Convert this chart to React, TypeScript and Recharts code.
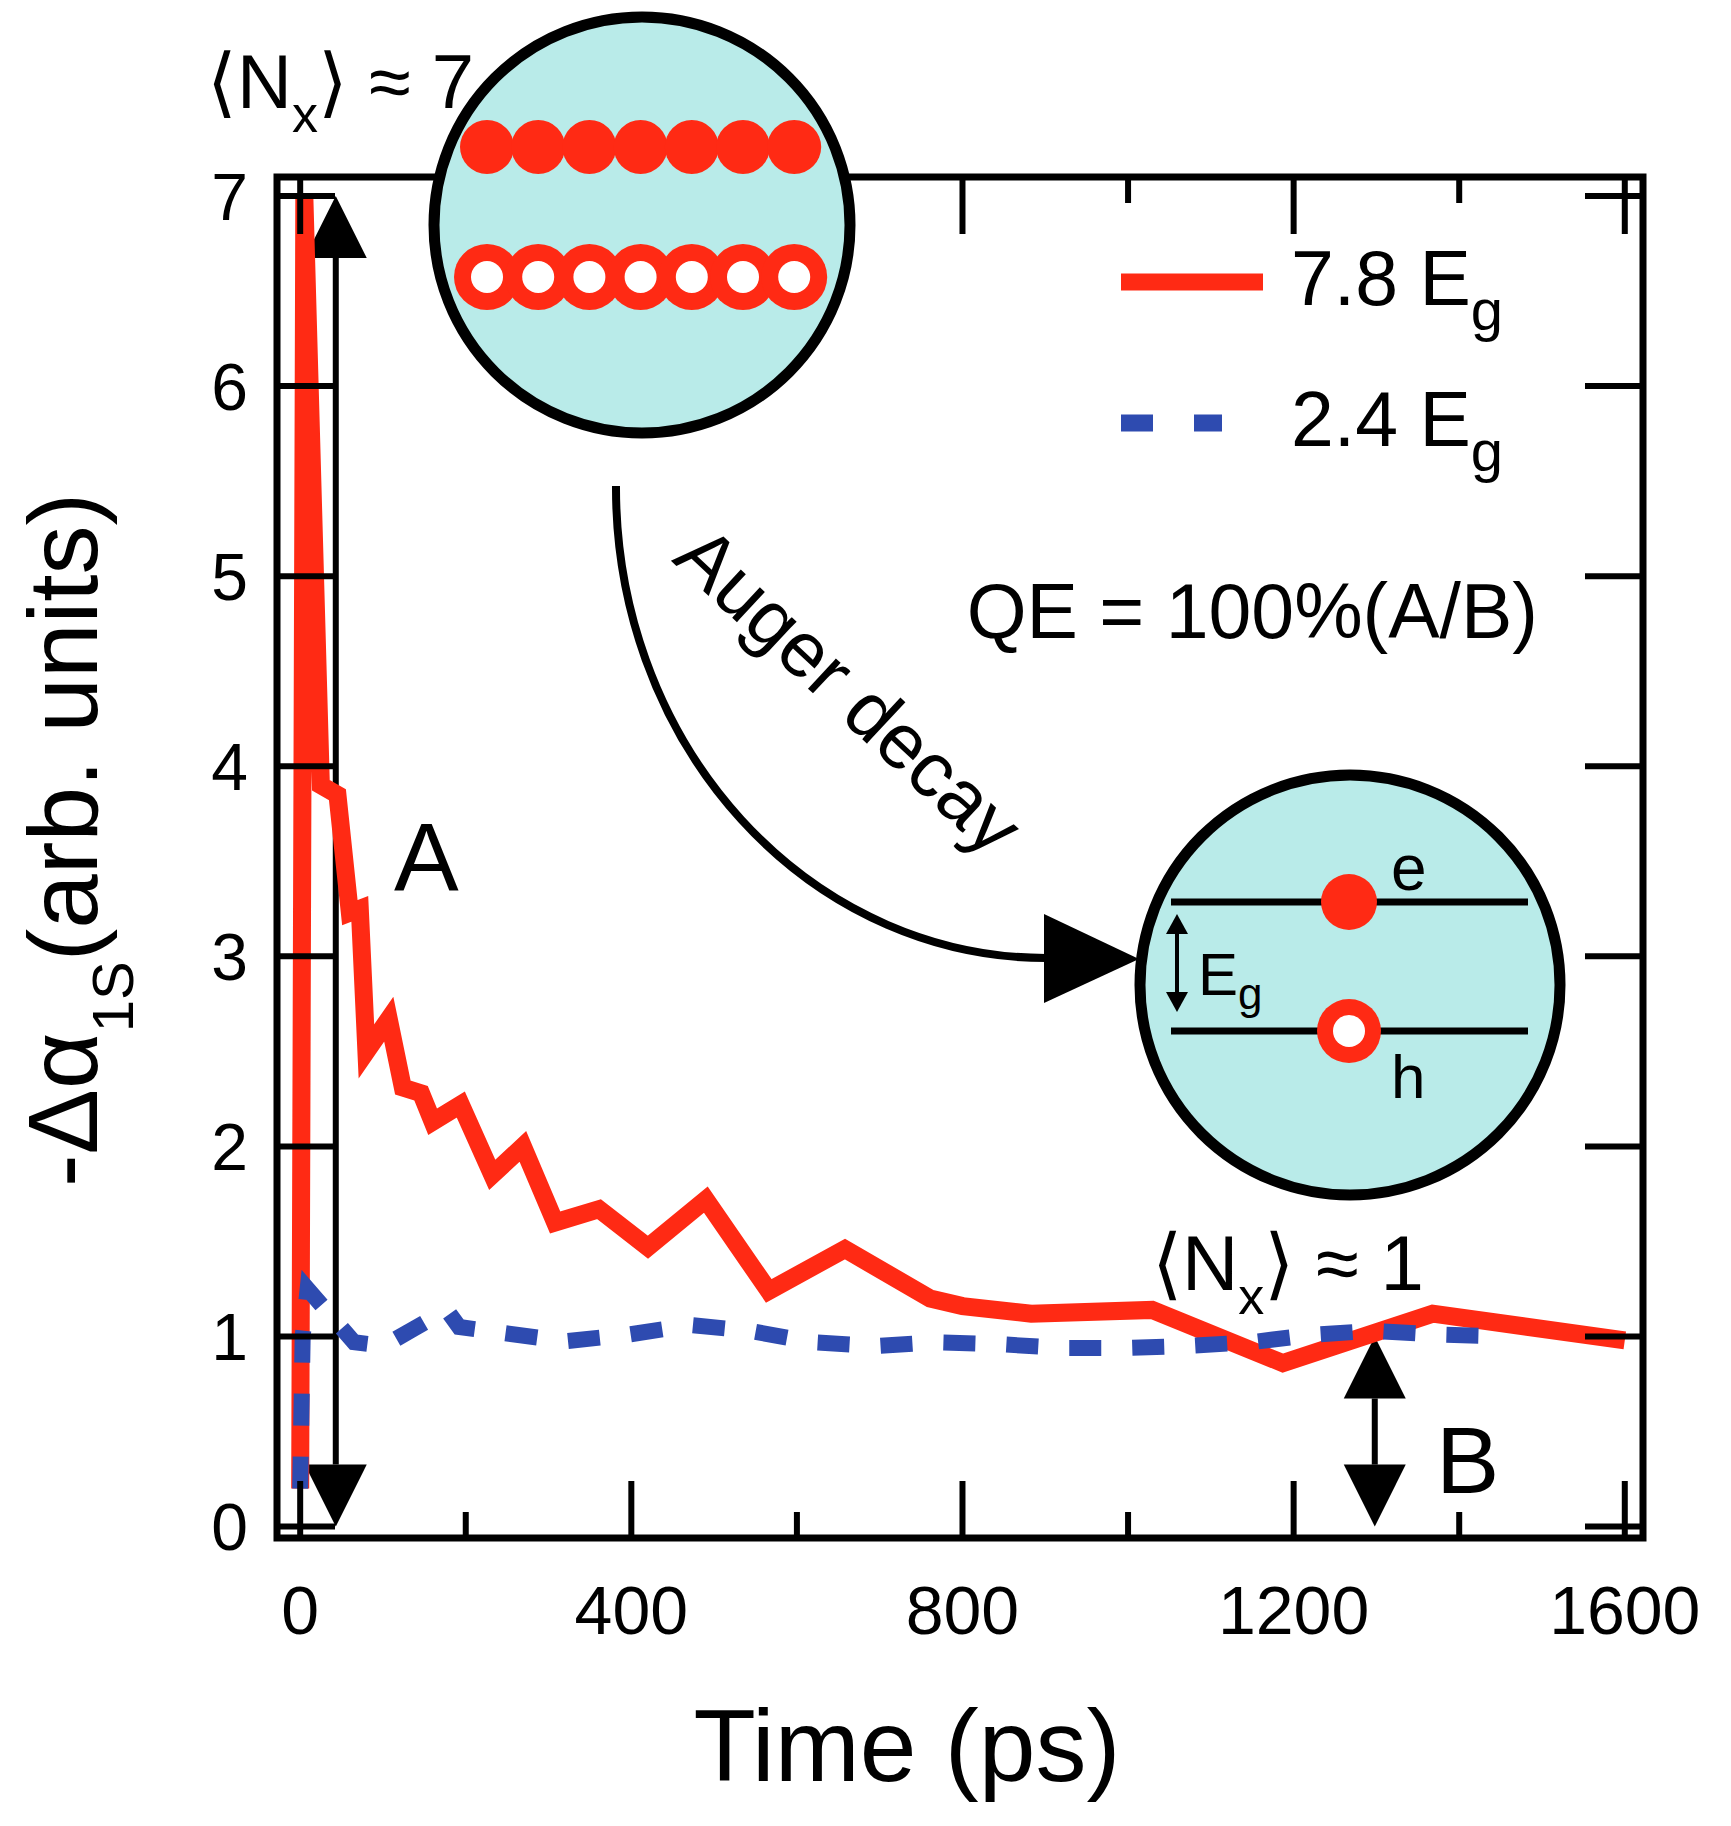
import React from "react";
import {
  LineChart,
  Line,
  XAxis,
  YAxis,
  ReferenceArea,
  ReferenceLine,
  Legend,
} from "recharts";

// 7.8 Eg pump (red, solid)
const TIME_78 = [
  0, 5, 25, 45, 60, 72, 80, 107, 124, 146, 160, 194, 232, 269, 308, 361, 420,
  490, 566, 658, 761, 800, 883, 1029, 1187, 1368, 1600,
];
const SIGNAL_78 = [
  0.2, 7.0, 3.9, 3.85, 3.23, 3.25, 2.5, 2.67, 2.31, 2.28, 2.13, 2.22, 1.85, 2.0,
  1.6, 1.67, 1.47, 1.72, 1.24, 1.46, 1.2, 1.16, 1.12, 1.14, 0.86, 1.12, 0.98,
];

// 2.4 Eg pump (blue, dashed)
const TIME_24 = [
  0, 3, 9, 65, 101, 137, 177, 192, 243, 320, 396, 472, 543, 619, 696, 768, 844,
  920, 996, 1072, 1148, 1225, 1296, 1374, 1460,
];
const SIGNAL_24 = [
  0.2, 1.0, 1.25, 0.97, 0.95, 1.04, 1.14, 1.05, 1.02, 0.975, 1.01, 1.06, 1.03,
  0.97, 0.95, 0.97, 0.96, 0.94, 0.94, 0.95, 0.97, 1.01, 1.03, 1.01, 1.0,
];

const SERIES_NAMES = ["7.8 E_g", "2.4 E_g"];
const X_TICKS = [0, 200, 400, 600, 800, 1000, 1200, 1400, 1600];
const Y_TICKS = [0, 1, 2, 3, 4, 5, 6, 7];
const X_DOMAIN = [-28, 1622];
const Y_DOMAIN = [-0.06, 7.1];

// arrows "A" (from 0 to the peak) and "B" (from 0 to the tail)
const ARROW_A = { t: 43, from: 0, to: 7 };
const ARROW_B = { t: 1298, from: 0, to: 1 };

const red = TIME_78.map((t, i) => ({ t, v: SIGNAL_78[i] }));
const blue = TIME_24.map((t, i) => ({ t, v: SIGNAL_24[i] }));

const RED = "#ff2a14";
const BLUE = "#2e4bb0";
const CYAN = "#b9ebe9";
const FONT = "'Liberation Sans', Arial, Helvetica, sans-serif";
const W = 1731;
const H = 1826;

const isMajor = (v: number) => v % 400 === 0;

function BottomTick({ x, y, payload }: any) {
  const major = isMajor(payload.value);
  return (
    <g>
      <line x1={x} x2={x} y1={y} y2={y - (major ? 57 : 26)} stroke="#000" strokeWidth={6} />
      {major && (
        <text x={x} y={y + 96} textAnchor="middle" fontSize={68} fontFamily={FONT} fill="#000">
          {payload.value}
        </text>
      )}
    </g>
  );
}

function TopTick({ x, y, payload }: any) {
  const major = isMajor(payload.value);
  return <line x1={x} x2={x} y1={y} y2={y + (major ? 57 : 26)} stroke="#000" strokeWidth={6} />;
}

function LeftTick({ x, y, payload }: any) {
  return (
    <g>
      <line x1={x} x2={x + 58} y1={y} y2={y} stroke="#000" strokeWidth={6} />
      <text x={x - 29} y={y} dy="0.36em" textAnchor="end" fontSize={66} fontFamily={FONT} fill="#000">
        {payload.value}
      </text>
    </g>
  );
}

function RightTick({ x, y }: any) {
  return <line x1={x} x2={x - 58} y1={y} y2={y} stroke="#000" strokeWidth={6} />;
}

function DoubleArrow({ x1, y1, y2 }: any) {
  const head = 62;
  const half = 31;
  const top = Math.min(y1, y2);
  const bottom = Math.max(y1, y2);
  const x = x1;
  return (
    <g>
      <line x1={x} x2={x} y1={top + head} y2={bottom - head} stroke="#000" strokeWidth={6} />
      <polygon points={`${x},${top} ${x - half},${top + head} ${x + half},${top + head}`} fill="#000" />
      <polygon
        points={`${x},${bottom} ${x - half},${bottom - head} ${x + half},${bottom - head}`}
        fill="#000"
      />
    </g>
  );
}

// "E_g" -> "E" + subscript "g"
function withSub(label: string, size: number, subSize: number, drop: number) {
  const [main, sub] = label.split("_");
  return (
    <>
      <tspan fontSize={size}>{main}</tspan>
      {sub && (
        <tspan fontSize={subSize} dy={drop}>
          {sub}
        </tspan>
      )}
    </>
  );
}

function LegendBox({ payload }: any) {
  const items = [...(payload ?? [])].sort(
    (a: any, b: any) => SERIES_NAMES.indexOf(a.value) - SERIES_NAMES.indexOf(b.value)
  );
  return (
    <svg width={520} height={260} style={{ overflow: "visible" }}>
      {items.map((it: any, i: number) => {
        const dashed = it.value === SERIES_NAMES[1];
        const cy = 62 + i * 141;
        return (
          <g key={it.value}>
            <line
              x1={21}
              x2={dashed ? 122 : 163}
              y1={cy}
              y2={cy}
              stroke={it.color}
              strokeWidth={17}
              strokeDasharray={dashed ? "32 41" : undefined}
            />
            <text x={191} y={cy + 23} fontFamily={FONT} fill="#000">
              {withSub(it.value, 77, 58, 25)}
            </text>
          </g>
        );
      })}
    </svg>
  );
}

function Insets() {
  const row = Array.from({ length: 7 }, (_, i) => 487 + i * 51.2);
  return (
    <svg
      width={W}
      height={H}
      style={{ position: "absolute", left: 0, top: 0, pointerEvents: "none" }}
    >
      <g fontFamily={FONT} fill="#000">
        {/* many-exciton inset */}
        <circle cx={642} cy={225} r={208} fill={CYAN} stroke="#000" strokeWidth={11} />
        {row.map((cx) => (
          <circle key={"f" + cx} cx={cx} cy={147} r={27} fill={RED} />
        ))}
        {row.map((cx) => (
          <circle key={"o" + cx} cx={cx} cy={277} r={33} fill={RED} />
        ))}
        {row.map((cx) => (
          <circle key={"w" + cx} cx={cx} cy={277} r={16} fill="#fff" />
        ))}

        {/* single-exciton inset */}
        <circle cx={1350} cy={985} r={210} fill={CYAN} stroke="#000" strokeWidth={11} />
        <line x1={1171} x2={1528} y1={902} y2={902} stroke="#000" strokeWidth={7} />
        <line x1={1171} x2={1528} y1={1031} y2={1031} stroke="#000" strokeWidth={7} />
        <circle cx={1349} cy={902} r={28} fill={RED} />
        <circle cx={1349} cy={1031} r={32} fill={RED} />
        <circle cx={1349} cy={1031} r={16} fill="#fff" />
        <text x={1391} y={890} fontSize={64}>e</text>
        <text x={1391} y={1098} fontSize={62}>h</text>
        <line x1={1177} x2={1177} y1={932} y2={994} stroke="#000" strokeWidth={4} />
        <polygon points="1177,914 1166,934 1188,934" fill="#000" />
        <polygon points="1177,1012 1166,992 1188,992" fill="#000" />
        <text x={1198} y={995}>{withSub("E_g", 60, 44, 14)}</text>

        {/* Auger decay arrow */}
        <path d="M 616 486 A 430 470 0 0 0 1046 958" fill="none" stroke="#000" strokeWidth={8} />
        <polygon points="1044,914 1044,1003 1139,959" fill="#000" />
        <text x={831} y={710} transform="rotate(43 831 710)" textAnchor="middle" fontSize={78}>
          Auger decay
        </text>

        <text x={1538} y={638} textAnchor="end" fontSize={77}>
          QE = 100%(A/B)
        </text>

        <text x={207} y={108} fontSize={76}>
          ⟨N<tspan fontSize={52} dy={24}>x</tspan>
          <tspan dy={-24}>⟩ ≈ 7</tspan>
        </text>
        <text x={1152} y={1290} fontSize={78}>
          ⟨N<tspan fontSize={52} dy={24}>x</tspan>
          <tspan dy={-24}>⟩ ≈ 1</tspan>
        </text>

        <text x={394} y={890} fontSize={97}>A</text>
        <text x={1436} y={1493} fontSize={95}>B</text>

        {/* axis titles */}
        <text x={907} y={1781} textAnchor="middle" fontSize={102}>
          Time (ps)
        </text>
        <text x={97} y={840} transform="rotate(-90 97 840)" textAnchor="middle" fontSize={98}>
          -Δα<tspan fontSize={58} dy={36}>1S</tspan>
          <tspan dy={-36}>(arb. units)</tspan>
        </text>
      </g>
    </svg>
  );
}

export default function App() {
  return (
    <div style={{ position: "absolute", left: 0, top: 0, width: W, height: H, background: "#fff" }}>
      <LineChart width={W} height={H} margin={{ top: 167, right: 78, bottom: 278, left: 267 }}>
        <XAxis
          dataKey="t"
          type="number"
          domain={X_DOMAIN}
          allowDataOverflow
          ticks={X_TICKS}
          interval={0}
          height={10}
          tickSize={0}
          tickMargin={0}
          axisLine={false}
          tickLine={false}
          tick={<BottomTick />}
        />
        <XAxis
          xAxisId="top"
          orientation="top"
          dataKey="t"
          type="number"
          domain={X_DOMAIN}
          allowDataOverflow
          ticks={X_TICKS}
          interval={0}
          height={10}
          tickSize={0}
          tickMargin={0}
          axisLine={false}
          tickLine={false}
          tick={<TopTick />}
        />
        <YAxis
          type="number"
          domain={Y_DOMAIN}
          allowDataOverflow
          ticks={Y_TICKS}
          interval={0}
          width={10}
          tickSize={0}
          tickMargin={0}
          axisLine={false}
          tickLine={false}
          tick={<LeftTick />}
        />
        <YAxis
          yAxisId="right"
          orientation="right"
          type="number"
          domain={Y_DOMAIN}
          allowDataOverflow
          ticks={Y_TICKS}
          interval={0}
          width={10}
          tickSize={0}
          tickMargin={0}
          axisLine={false}
          tickLine={false}
          tick={<RightTick />}
        />
        <ReferenceArea
          x1={X_DOMAIN[0]}
          x2={X_DOMAIN[1]}
          y1={Y_DOMAIN[0]}
          y2={Y_DOMAIN[1]}
          fill="none"
          stroke="#000"
          strokeWidth={7}
          ifOverflow="visible"
        />
        <ReferenceLine
          segment={[
            { x: ARROW_A.t, y: ARROW_A.from },
            { x: ARROW_A.t, y: ARROW_A.to },
          ]}
          ifOverflow="visible"
          shape={(p: any) => <DoubleArrow {...p} />}
        />
        <ReferenceLine
          segment={[
            { x: ARROW_B.t, y: ARROW_B.from },
            { x: ARROW_B.t, y: ARROW_B.to },
          ]}
          ifOverflow="visible"
          shape={(p: any) => <DoubleArrow {...p} />}
        />
        <Line
          data={red}
          dataKey="v"
          name={SERIES_NAMES[0]}
          stroke={RED}
          strokeWidth={18}
          dot={false}
          activeDot={false}
          isAnimationActive={false}
        />
        <Line
          data={blue}
          dataKey="v"
          name={SERIES_NAMES[1]}
          stroke={BLUE}
          strokeWidth={16}
          strokeDasharray="32 31"
          dot={false}
          activeDot={false}
          isAnimationActive={false}
        />
        <Legend
          layout="horizontal"
          verticalAlign="middle"
          align="center"
          content={<LegendBox />}
          wrapperStyle={{ position: "absolute", left: 1100, top: 220, width: 520, height: 260 }}
        />
      </LineChart>
      <Insets />
    </div>
  );
}
